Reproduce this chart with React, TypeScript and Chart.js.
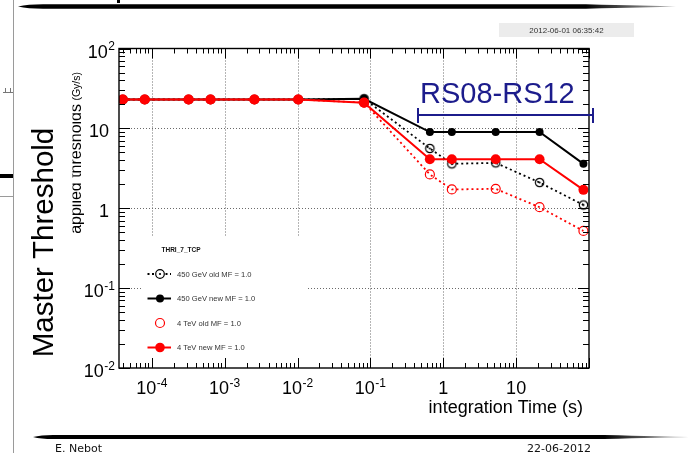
import React, { useEffect, useRef } from "react";
import { Chart, registerables } from "chart.js";

Chart.register(...registerables);

// BLM running sums RS01..RS12 (integration times in seconds)
const runningSums = ["RS01", "RS02", "RS03", "RS04", "RS05", "RS06", "RS07", "RS08", "RS09", "RS10", "RS11", "RS12"];
const integrationTimes = [4.0e-5, 8.0e-5, 3.2e-4, 6.4e-4, 2.56e-3, 1.024e-2, 8.192e-2, 0.655, 1.311, 5.243, 20.97, 83.89];

// applied thresholds (Gy/s)
const gev450OldMF = [23, 23, 23, 23, 23, 23, 23.5, 5.6, 3.6, 3.7, 2.1, 1.1];
const gev450NewMF = [23, 23, 23, 23, 23, 23, 23.5, 9.0, 9.0, 9.0, 9.0, 3.6];
const tev4OldMF = [23, 23, 23, 23, 23, 23, 21, 2.65, 1.72, 1.75, 1.03, 0.52];
const tev4NewMF = [23, 23, 23, 23, 23, 23, 21, 4.1, 4.1, 4.1, 4.1, 1.7];

const seriesNames = ["450 GeV old MF = 1.0", "450 GeV new MF = 1.0", "4 TeV old MF = 1.0", "4 TeV new MF = 1.0"];
const legendTitle = "THRI_7_TCP";

const xTickValues = [1e-4, 1e-3, 1e-2, 1e-1, 1, 10];
const xTickLabels = ["10^-4", "10^-3", "10^-2", "10^-1", "1", "10"];
const yTickValues = [100, 10, 1, 0.1, 0.01];
const yTickLabels = ["10^2", "10", "1", "10^-1", "10^-2"];

const xMin = 3.55e-5;
const xMax = 100;
const yMin = 0.01;
const yMax = 100;

const NAVY = "#1c1c8c";
const RED = "#ff0000";
const FONT = "'Liberation Sans', Arial, sans-serif";

function makeDotCircle(color: string, r: number, lw: number) {
  const c = document.createElement("canvas");
  const s = Math.ceil(r * 2 + lw * 2 + 2);
  c.width = s;
  c.height = s;
  const g = c.getContext("2d")!;
  g.strokeStyle = color;
  g.lineWidth = lw;
  g.beginPath();
  g.arc(s / 2, s / 2, r, 0, Math.PI * 2);
  g.stroke();
  g.fillStyle = color;
  g.beginPath();
  g.arc(s / 2, s / 2, 1.1, 0, Math.PI * 2);
  g.fill();
  return c;
}

function pts(values: number[]) {
  return integrationTimes.map((t, i) => ({ x: t, y: values[i] }));
}

function drawPowLabel(ctx: CanvasRenderingContext2D, label: string, x: number, y: number, align: "center" | "right") {
  const [base, exp] = label.split("^");
  ctx.textBaseline = "alphabetic";
  ctx.textAlign = "left";
  ctx.font = `18px ${FONT}`;
  const wb = ctx.measureText(base).width;
  let we = 0;
  if (exp) {
    ctx.font = `12px ${FONT}`;
    we = ctx.measureText(exp).width + 0.5;
  }
  const w = wb + we;
  const x0 = align === "center" ? x - w / 2 : x - w;
  ctx.font = `18px ${FONT}`;
  ctx.fillText(base, x0, y);
  if (exp) {
    ctx.font = `12px ${FONT}`;
    ctx.fillText(exp, x0 + wb + 0.5, y - 7.5);
  }
}

function swoosh(ctx: CanvasRenderingContext2D, x0: number, x1: number, y: number, t: number, tl: number, tr: number) {
  const grad = ctx.createLinearGradient(x0, 0, x1, 0);
  const f = (x1 - tr - x0) / (x1 - x0);
  grad.addColorStop(0, "#000");
  grad.addColorStop(f, "#000");
  grad.addColorStop(1, "#bbb");
  ctx.fillStyle = grad;
  ctx.beginPath();
  ctx.moveTo(x0, y);
  ctx.quadraticCurveTo(x0 + tl * 0.4, y - t / 2, x0 + tl, y - t / 2);
  ctx.lineTo(x1 - tr, y - t / 2);
  ctx.quadraticCurveTo(x1 - tr * 0.3, y - t * 0.15, x1, y);
  ctx.quadraticCurveTo(x1 - tr * 0.3, y + t * 0.15, x1 - tr, y + t / 2);
  ctx.lineTo(x0 + tl, y + t / 2);
  ctx.quadraticCurveTo(x0 + tl * 0.4, y + t / 2, x0, y);
  ctx.closePath();
  ctx.fill();
}

const slidePlugin = {
  id: "slidePlugin",
  beforeDraw(chart: any) {
    const ctx = chart.ctx as CanvasRenderingContext2D;
    ctx.save();
    ctx.fillStyle = "#fff";
    ctx.fillRect(0, 0, chart.width, chart.height);
    ctx.restore();
  },
  beforeDatasetsDraw(chart: any) {
    const ctx = chart.ctx as CanvasRenderingContext2D;
    const xs = chart.scales.x;
    const ys = chart.scales.y;
    const { left, right, top, bottom } = chart.chartArea;
    ctx.save();
    ctx.strokeStyle = "#6a6a6a";
    ctx.lineWidth = 1;
    ctx.setLineDash([1, 2]);
    xTickValues.forEach((v) => {
      const px = Math.round(xs.getPixelForValue(v)) + 0.5;
      ctx.beginPath();
      ctx.moveTo(px, top);
      ctx.lineTo(px, bottom);
      ctx.stroke();
    });
    yTickValues.forEach((v) => {
      if (v >= yMax || v <= yMin) return;
      const py = Math.round(ys.getPixelForValue(v)) + 0.5;
      ctx.beginPath();
      ctx.moveTo(left, py);
      ctx.lineTo(right, py);
      ctx.stroke();
    });
    ctx.restore();
    // legend box (white) covers grid
    ctx.save();
    ctx.fillStyle = "#fff";
    ctx.fillRect(142, 237, 166, 126);
    ctx.restore();
  },
  afterDatasetsDraw(chart: any) {
    const ctx = chart.ctx as CanvasRenderingContext2D;
    const xs = chart.scales.x;
    const ys = chart.scales.y;
    const { left, right, top, bottom } = chart.chartArea;

    // frame
    ctx.save();
    ctx.strokeStyle = "#000";
    ctx.lineWidth = 1.4;
    ctx.strokeRect(left, top, right - left, bottom - top);

    // ticks
    ctx.lineWidth = 1;
    for (let e = -5; e <= 2; e++) {
      for (let m = 1; m <= 9; m++) {
        const v = m * Math.pow(10, e);
        if (v < xMin || v > xMax) continue;
        const px = Math.round(xs.getPixelForValue(v)) + 0.5;
        const len = m === 1 ? 10 : 5;
        ctx.beginPath();
        ctx.moveTo(px, bottom);
        ctx.lineTo(px, bottom - len);
        ctx.moveTo(px, top);
        ctx.lineTo(px, top + len);
        ctx.stroke();
      }
    }
    for (let e = -2; e <= 2; e++) {
      for (let m = 1; m <= 9; m++) {
        const v = m * Math.pow(10, e);
        if (v < yMin || v > yMax) continue;
        const py = Math.round(ys.getPixelForValue(v)) + 0.5;
        const len = m === 1 ? 11 : 6;
        ctx.beginPath();
        ctx.moveTo(left, py);
        ctx.lineTo(left + len, py);
        ctx.moveTo(right, py);
        ctx.lineTo(right - len, py);
        ctx.stroke();
      }
    }

    // tick labels
    ctx.fillStyle = "#000";
    xTickValues.forEach((v, i) => {
      drawPowLabel(ctx, xTickLabels[i], xs.getPixelForValue(v), 394, "center");
    });
    yTickValues.forEach((v, i) => {
      const lab = yTickLabels[i];
      const xr = lab.includes("^") ? 115 : 109;
      drawPowLabel(ctx, lab, xr, ys.getPixelForValue(v) + 9, "right");
    });

    // x title
    ctx.font = `18px ${FONT}`;
    ctx.textAlign = "right";
    ctx.textBaseline = "alphabetic";
    ctx.fillText("integration Time (s)", 583, 413);

    // y title (partially hidden)
    ctx.save();
    ctx.beginPath();
    ctx.rect(72.5, 90, 20, 200);
    ctx.clip();
    ctx.translate(81, 104);
    ctx.rotate(-Math.PI / 2);
    ctx.font = `16px ${FONT}`;
    ctx.textAlign = "right";
    ctx.fillText("applied thresholds", 0, 0);
    ctx.restore();
    ctx.save();
    ctx.translate(80, 72);
    ctx.rotate(-Math.PI / 2);
    ctx.font = `10.5px ${FONT}`;
    ctx.textAlign = "right";
    ctx.fillText("(Gy/s)", 0, 0);
    ctx.restore();

    // Master Threshold
    ctx.save();
    ctx.translate(53, 242.5);
    ctx.rotate(-Math.PI / 2);
    ctx.font = `29.5px ${FONT}`;
    ctx.textAlign = "center";
    ctx.fillStyle = "#000";
    ctx.fillText("Master Threshold", 0, 0);
    ctx.restore();

    // legend
    ctx.font = `bold 6.5px ${FONT}`;
    ctx.textAlign = "left";
    ctx.textBaseline = "middle";
    ctx.fillStyle = "#111";
    ctx.fillText(legendTitle, 161.5, 250);
    const ly = [274, 298.5, 323, 347.5];
    const lx0 = 147.5;
    const lx1 = 171;
    const mx = 160;
    // 450 old
    ctx.strokeStyle = "#000";
    ctx.lineWidth = 2;
    ctx.setLineDash([2, 2.5]);
    ctx.beginPath();
    ctx.moveTo(lx0, ly[0]);
    ctx.lineTo(lx1, ly[0]);
    ctx.stroke();
    ctx.setLineDash([]);
    ctx.fillStyle = "#fff";
    ctx.beginPath();
    ctx.arc(mx, ly[0], 4.3, 0, Math.PI * 2);
    ctx.fill();
    ctx.lineWidth = 1.2;
    ctx.stroke();
    ctx.fillStyle = "#000";
    ctx.beginPath();
    ctx.arc(mx, ly[0], 1.1, 0, Math.PI * 2);
    ctx.fill();
    // 450 new
    ctx.lineWidth = 2;
    ctx.beginPath();
    ctx.moveTo(lx0, ly[1]);
    ctx.lineTo(lx1, ly[1]);
    ctx.stroke();
    ctx.beginPath();
    ctx.arc(mx, ly[1], 4, 0, Math.PI * 2);
    ctx.fill();
    // 4 TeV old
    ctx.strokeStyle = RED;
    ctx.lineWidth = 1.2;
    ctx.beginPath();
    ctx.arc(mx, ly[2], 4.5, 0, Math.PI * 2);
    ctx.stroke();
    // 4 TeV new
    ctx.lineWidth = 2;
    ctx.beginPath();
    ctx.moveTo(lx0, ly[3]);
    ctx.lineTo(lx1, ly[3]);
    ctx.stroke();
    ctx.fillStyle = RED;
    ctx.beginPath();
    ctx.arc(mx, ly[3], 4.8, 0, Math.PI * 2);
    ctx.fill();
    ctx.font = `7.6px ${FONT}`;
    ctx.fillStyle = "#333";
    seriesNames.forEach((n, i) => ctx.fillText(n, 177, ly[i] + 0.5));

    // RS08-RS12 annotation
    ctx.fillStyle = NAVY;
    ctx.font = `29px ${FONT}`;
    ctx.textAlign = "left";
    ctx.textBaseline = "alphabetic";
    ctx.fillText(`${runningSums[7]}-${runningSums[11]}`, 420, 103);
    ctx.strokeStyle = NAVY;
    ctx.lineWidth = 2;
    ctx.beginPath();
    ctx.moveTo(418, 115);
    ctx.lineTo(593, 115);
    ctx.moveTo(418, 108);
    ctx.lineTo(418, 123);
    ctx.moveTo(593, 108);
    ctx.lineTo(593, 123);
    ctx.stroke();

    // timestamp
    ctx.fillStyle = "#ececec";
    ctx.fillRect(499, 23, 135, 14);
    ctx.fillStyle = "#333";
    ctx.font = `8px ${FONT}`;
    ctx.textAlign = "center";
    ctx.textBaseline = "middle";
    ctx.fillText("2012-06-01 06:35:42", 566.5, 30.5);

    // slide decorations
    ctx.strokeStyle = "#9a9a9a";
    ctx.lineWidth = 1;
    ctx.beginPath();
    ctx.moveTo(13.5, 0);
    ctx.lineTo(13.5, 453);
    ctx.moveTo(0, 196.5);
    ctx.lineTo(13, 196.5);
    ctx.stroke();
    ctx.strokeStyle = "#777";
    ctx.beginPath();
    ctx.moveTo(3, 92.5);
    ctx.lineTo(13, 92.5);
    ctx.moveTo(5.5, 92.5);
    ctx.lineTo(5.5, 88);
    ctx.moveTo(10.5, 92.5);
    ctx.lineTo(10.5, 88);
    ctx.stroke();
    ctx.fillStyle = "#000";
    ctx.fillRect(0, 174, 13, 4);
    ctx.fillRect(117, 0, 3, 3);
    swoosh(ctx, 18, 676, 6.5, 4.5, 25, 90);
    swoosh(ctx, 33, 689, 437, 4, 20, 85);

    // footer
    ctx.fillStyle = "#111";
    ctx.font = "11px 'DejaVu Sans', sans-serif";
    ctx.textAlign = "left";
    ctx.textBaseline = "alphabetic";
    ctx.fillText("E. Nebot", 55, 452);
    ctx.fillText("22-06-2012", 527, 452);
    ctx.restore();
  },
};

export default function App() {
  const ref = useRef<HTMLCanvasElement | null>(null);
  useEffect(() => {
    if (!ref.current) return;
    const oldDot = makeDotCircle("#000", 4.2, 1.2);
    const chart = new Chart(ref.current, {
      type: "line",
      data: {
        datasets: [
          {
            label: seriesNames[3],
            data: pts(tev4NewMF),
            borderColor: RED,
            backgroundColor: RED,
            borderWidth: 2,
            pointRadius: 5,
            pointBorderWidth: 0,
            pointBackgroundColor: RED,
            order: 0,
          },
          {
            label: seriesNames[2],
            data: pts(tev4OldMF),
            borderColor: RED,
            borderWidth: 1.8,
            borderDash: [2, 3],
            pointRadius: 4.5,
            pointBorderWidth: 1.2,
            pointBorderColor: RED,
            pointBackgroundColor: "rgba(0,0,0,0)",
            order: 1,
          },
          {
            label: seriesNames[1],
            data: pts(gev450NewMF),
            borderColor: "#000",
            backgroundColor: "#000",
            borderWidth: 2,
            pointRadius: 4,
            pointBorderWidth: 0,
            pointBackgroundColor: "#000",
            order: 2,
          },
          {
            label: seriesNames[0],
            data: pts(gev450OldMF),
            borderColor: "#000",
            borderWidth: 1.8,
            borderDash: [2, 3],
            pointStyle: oldDot as any,
            pointRadius: 4.5,
            order: 3,
          },
        ],
      },
      options: {
        animation: false,
        responsive: false,
        devicePixelRatio: 1,
        events: [],
        layout: { padding: { left: 119, right: 101, top: 48.5, bottom: 86 } },
        plugins: { legend: { display: false }, tooltip: { enabled: false } },
        scales: {
          x: { type: "logarithmic", min: xMin, max: xMax, display: false },
          y: { type: "logarithmic", min: yMin, max: yMax, display: false },
        },
      },
      plugins: [slidePlugin],
    });
    return () => chart.destroy();
  }, []);
  return (
    <div style={{ position: "absolute", left: 0, top: 0, width: 690, height: 454, background: "#fff" }}>
      <canvas ref={ref} width={690} height={454} style={{ width: 690, height: 454, display: "block" }} />
    </div>
  );
}
